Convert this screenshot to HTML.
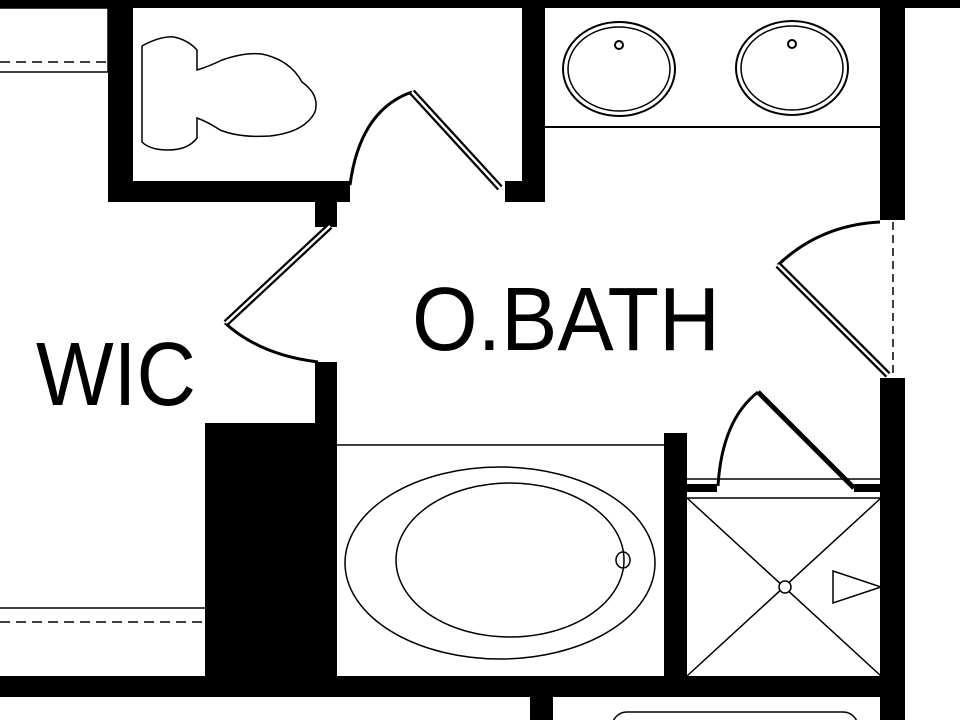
<!DOCTYPE html>
<html><head><style>html,body{margin:0;padding:0;background:#fff;}svg{display:block}</style></head>
<body>
<svg width="960" height="720" viewBox="0 0 960 720" xmlns="http://www.w3.org/2000/svg">
<rect width="960" height="720" fill="#fff"/>
<g fill="#000">
<rect x="0" y="0" width="960" height="8"/>
<rect x="108" y="0" width="25" height="202"/>
<rect x="108" y="181" width="242" height="21"/>
<rect x="522" y="0" width="23" height="202"/>
<rect x="505" y="181" width="40" height="21"/>
<rect x="880" y="0" width="25" height="220"/>
<rect x="880" y="378" width="25" height="342"/>
<rect x="315" y="202" width="22" height="25"/>
<rect x="315" y="362" width="22" height="330"/>
<rect x="205" y="423" width="132" height="265"/>
<rect x="0" y="676" width="905" height="21"/>
<rect x="664" y="433" width="23" height="250"/>
<rect x="530" y="697" width="23" height="23"/>
<rect x="687" y="484" width="30" height="8"/>
<rect x="854" y="484" width="27" height="8"/>
</g>
<g fill="none" stroke="#000" stroke-width="1.5">
<!-- top-left shelf -->
<rect x="-2" y="8" width="110" height="64"/>
<line x1="0" y1="62" x2="108" y2="62" stroke-dasharray="10,6"/>
<!-- bottom-left shelf -->
<line x1="0" y1="608" x2="205" y2="608"/>
<line x1="0" y1="622" x2="205" y2="622" stroke-dasharray="10,6"/>
<!-- toilet -->
<path d="M142 46 Q160 36 174 37 Q188 40 197 50 L197 70 Q210 66 222 60 Q245 52 262 54 Q290 60 302 82 Q320 95 315 112 Q305 132 270 136 Q240 138 220 130 Q208 122 197 118 L197 138 Q188 150 168 150 Q150 150 142 142 Z"/>
<!-- vanity -->
<line x1="545" y1="127" x2="880" y2="127" stroke-width="2"/>
<ellipse cx="619" cy="69" rx="56" ry="47" stroke-width="2"/>
<ellipse cx="619" cy="69" rx="51" ry="42"/>
<circle cx="619" cy="45" r="4" stroke-width="2"/>
<ellipse cx="792" cy="68" rx="56" ry="47" stroke-width="2"/>
<ellipse cx="792" cy="68" rx="51" ry="42"/>
<circle cx="792" cy="44" r="4" stroke-width="2"/>
<!-- tub -->
<line x1="337" y1="445" x2="664" y2="445"/>
<ellipse cx="500" cy="563" rx="155" ry="96"/>
<ellipse cx="510" cy="560" rx="114" ry="77"/>
<ellipse cx="623" cy="560" rx="7" ry="8"/>
<!-- shower -->
<line x1="687" y1="479" x2="881" y2="479"/>
<line x1="687" y1="498" x2="881" y2="498"/>
<line x1="687" y1="498" x2="881" y2="676"/>
<line x1="881" y1="498" x2="687" y2="676"/>
<circle cx="785" cy="587" r="6" fill="#fff"/>
<polygon points="833,571 881,587 833,603"/>
<!-- openings -->
<line x1="893" y1="222" x2="893" y2="378" stroke-dasharray="8,5"/>
<!-- doors: arcs -->
<path d="M350 185 Q360 110 412 92" stroke-width="3"/>
<path d="M225 323 Q260 355 318 362" stroke-width="3"/>
<path d="M778 265 Q820 225 880 222" stroke-width="3"/>
<path d="M718 486 Q722 420 758 392" stroke-width="3"/>
<!-- bottom rounded box -->
<rect x="612" y="712" width="246" height="30" rx="15"/>
</g>
<!-- door panels (double lines) -->
<g stroke-linecap="butt">
<line x1="412" y1="92" x2="500" y2="188" stroke="#000" stroke-width="7"/>
<line x1="412" y1="92" x2="500" y2="188" stroke="#fff" stroke-width="2.5"/>
<line x1="330" y1="226" x2="226" y2="323" stroke="#000" stroke-width="7"/>
<line x1="330" y1="226" x2="226" y2="323" stroke="#fff" stroke-width="2.5"/>
<line x1="778" y1="265" x2="888" y2="375" stroke="#000" stroke-width="7"/>
<line x1="778" y1="265" x2="888" y2="375" stroke="#fff" stroke-width="2.5"/>
<line x1="758" y1="392" x2="854" y2="488" stroke="#000" stroke-width="5"/>
</g>
<g fill="#000" font-family="Liberation Sans, sans-serif" font-size="90">
<text x="36" y="405" textLength="160" lengthAdjust="spacingAndGlyphs">WIC</text>
<text x="412" y="350" textLength="308" lengthAdjust="spacingAndGlyphs">O.BATH</text>
</g>
</svg>
</body></html>
